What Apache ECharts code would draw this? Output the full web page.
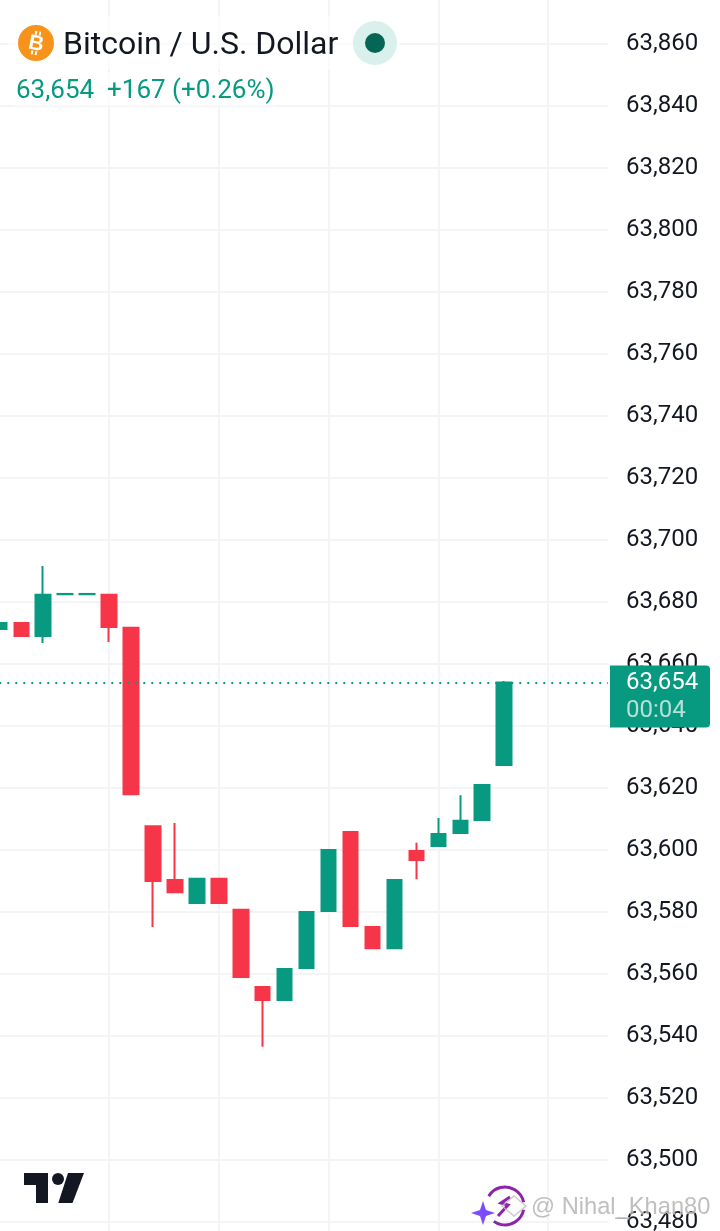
<!DOCTYPE html>
<html><head><meta charset="utf-8">
<style>html,body{margin:0;padding:0;background:#fff}#c{width:720px;height:1231px}</style>
<script src="https://cdn.jsdelivr.net/npm/echarts@6/dist/echarts.min.js"></script>
</head><body><div id="c"></div>
<script>
const opens  = [63671.3,63673.2,63669.0,63682.5,63682.5,63682.3,63671.7,63607.7,63590.3,63582.9,63590.7,63580.7,63555.8,63551.6,63561.9,63580.3,63605.8,63575.2,63568.3,63599.7,63601.3,63605.5,63609.7,63627.4];
const closes = [63673.2,63669.0,63682.3,63682.6,63682.6,63671.9,63618.0,63590.0,63586.4,63590.7,63582.9,63559.0,63551.6,63561.6,63580.0,63600.0,63575.5,63568.3,63590.3,63596.8,63605.2,63609.4,63621.0,63654.0];
const lows   = [63671.3,63669.0,63666.8,63682.5,63682.5,63667.1,63618.0,63575.2,63586.4,63582.9,63582.9,63559.0,63536.5,63551.6,63561.9,63580.3,63575.5,63568.3,63568.3,63590.6,63601.3,63605.5,63609.7,63627.4];
const highs  = [63673.2,63673.2,63691.6,63682.6,63682.6,63682.3,63671.7,63607.7,63608.7,63590.7,63590.7,63580.7,63555.8,63561.6,63580.0,63600.0,63605.8,63575.2,63590.3,63602.3,63610.3,63617.7,63621.0,63654.5];
const lastPrice = 63654;
const priceLabel = '63,654';
const countdown = '00:04';
const titleText = 'Bitcoin / U.S. Dollar';
const changeText = '63,654  +167 (+0.26%)';
const watermark = '@ Nihal_Khan80';

const UP='#089981', DOWN='#F63648', GRID='#f3f4f5', INK='#131722';
const FONT='Roboto';
const chart = echarts.init(document.getElementById('c'),null,{renderer:'canvas'});
const candles = opens.map((o,i)=>[i,o,closes[i],lows[i],highs[i]]);
chart.setOption({
  animation:false,
  backgroundColor:'#fff',
  grid:{left:-0.7,width:608.7,top:-18,height:1302,outerBoundsMode:'none'},
  xAxis:{type:'value',min:0,max:27.73,interval:5,
    axisLine:{show:false},axisTick:{show:false},axisLabel:{show:false},
    splitLine:{show:true,showMinLine:false,showMaxLine:false,lineStyle:{color:GRID,width:2}}},
  yAxis:{type:'value',position:'right',min:63460,max:63880,interval:20,scale:true,
    axisLine:{show:false},axisTick:{show:false},
    axisLabel:{margin:18,fontFamily:FONT,fontSize:24,color:INK,padding:[0,0,4,0],
      formatter:v=>v.toLocaleString('en-US')},
    splitLine:{show:true,lineStyle:{color:GRID,width:2}}},
  series:[{type:'candlestick',barWidth:15,
    encode:{x:0,y:[1,2,3,4]},
    data:candles,
    itemStyle:{color:UP,color0:DOWN,borderColor:UP,borderColor0:DOWN,borderWidth:2},
    markLine:{silent:true,symbol:'none',z:10,animation:false,label:{show:false},
      lineStyle:{color:UP,type:[2,6],width:2,opacity:1},
      data:[{yAxis:lastPrice}]}
  }]
});
const py = chart.convertToPixel({yAxisIndex:0},lastPrice);
chart.setOption({graphic:{elements:[
  {type:'rect',z:90,shape:{x:8,y:16,width:392,height:54,r:6},style:{fill:'rgba(255,255,255,0.6)'}},
  {type:'rect',z:90,shape:{x:8,y:72,width:274,height:34,r:6},style:{fill:'rgba(255,255,255,0.6)'}},
  {type:'circle',z:100,shape:{cx:36,cy:43,r:18},style:{fill:'#F7931A'}},
  {type:'text',z:101,x:36,y:44,rotation:-0.2,style:{text:'B',fontFamily:'Liberation Sans',fontWeight:'bold',fontSize:21,fill:'#fff',align:'center',verticalAlign:'middle'}},
  {type:'rect',z:101,rotation:-0.2,originX:36,originY:43,shape:{x:33,y:31,width:2,height:4},style:{fill:'#fff'}},
  {type:'rect',z:101,rotation:-0.2,originX:36,originY:43,shape:{x:37,y:31,width:2,height:4},style:{fill:'#fff'}},
  {type:'rect',z:101,rotation:-0.2,originX:36,originY:43,shape:{x:33,y:51,width:2,height:4},style:{fill:'#fff'}},
  {type:'rect',z:101,rotation:-0.2,originX:36,originY:43,shape:{x:37,y:51,width:2,height:4},style:{fill:'#fff'}},
  {type:'text',z:100,x:63,y:46,style:{text:titleText,fontFamily:FONT,fontSize:32,fill:INK,verticalAlign:'middle'}},
  {type:'circle',z:100,shape:{cx:375,cy:43,r:22},style:{fill:'#DAF0EC'}},
  {type:'circle',z:101,shape:{cx:375,cy:43,r:10},style:{fill:'#056656'}},
  {type:'text',z:100,x:16,y:91,style:{text:changeText,fontFamily:FONT,fontSize:26,fill:UP,verticalAlign:'middle'}},

  {type:'rect',z:100,shape:{x:610,y:py-17,width:100,height:62,r:[0,4,4,0]},style:{fill:UP}},
  {type:'text',z:101,x:626,y:py,style:{text:priceLabel,fontFamily:FONT,fontSize:24,fill:'#fff',verticalAlign:'middle'}},
  {type:'text',z:101,x:626,y:py+28,style:{text:countdown,fontFamily:FONT,fontSize:24,fill:'rgba(255,255,255,0.7)',verticalAlign:'middle'}},

  {type:'polygon',z:100,shape:{points:[[24,1173],[48,1173],[48,1203],[36,1203],[36,1185],[24,1185]]},style:{fill:'#131722'}},
  {type:'circle',z:100,shape:{cx:58,cy:1179,r:6},style:{fill:'#131722'}},
  {type:'polygon',z:100,shape:{points:[[68,1173],[84,1173],[72.5,1203],[58.3,1203]]},style:{fill:'#131722'}},

  {type:'line',z:100,shape:{x1:617,y1:1218,x2:626,y2:1218},style:{stroke:'#777',lineWidth:1.5}},
  {type:'arc',z:100,shape:{cx:505,cy:1206,r:19,startAngle:-2.6,endAngle:-0.2,clockwise:true},style:{stroke:'#8E24AA',lineWidth:3,fill:null}},
  {type:'arc',z:100,shape:{cx:505,cy:1206,r:19,startAngle:0.2,endAngle:2.2,clockwise:true},style:{stroke:'#8E24AA',lineWidth:3,fill:null}},
  {type:'polygon',z:101,shape:{points:[[483,1201],[486,1210],[495,1213],[486,1216],[483,1225],[480,1216],[471,1213],[480,1210]]},style:{fill:'#7C4DFF'}},
  {type:'polyline',z:101,shape:{points:[[510,1197],[501,1203],[508,1205],[498,1216]]},style:{stroke:'#8E24AA',lineWidth:3,fill:null}},
  {type:'polygon',z:101,shape:{points:[[514,1196],[526,1206],[514,1216],[502,1206]]},style:{stroke:'rgba(190,190,190,0.8)',lineWidth:1.5,fill:null}},
  {type:'text',z:102,x:531,y:1207,style:{text:watermark,fontFamily:'Liberation Sans',fontSize:23.7,fill:'rgba(170,170,170,0.75)',stroke:'rgba(255,255,255,0.7)',lineWidth:1,verticalAlign:'middle'}}
]}});
</script></body></html>
